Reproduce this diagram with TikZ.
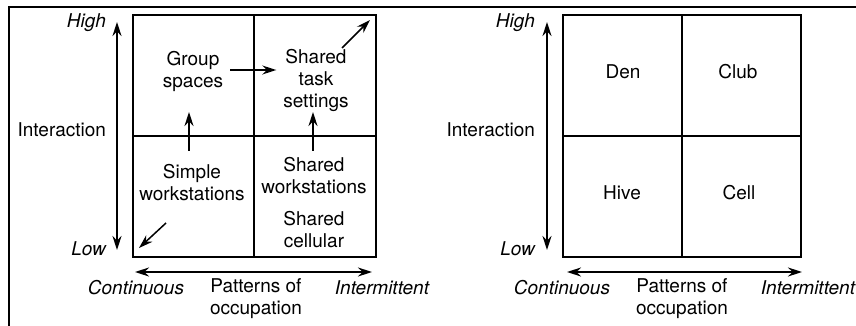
\documentclass[tikz,border=0pt]{standalone}
\usepackage{fontspec}
\setmainfont{TeX Gyre Heros}
\usetikzlibrary{arrows.meta,positioning}

\tikzset{
  quad/.style={line width=0.7pt},
  axis/.style={line width=0.8pt,
    {Stealth[length=7pt,width=4.5pt]}-{Stealth[length=7pt,width=4.5pt]}},
  flow/.style={line width=0.75pt,-{Stealth[length=7pt,width=4.5pt]}},
  txt/.style={align=center,font=\fontsize{9.5}{11}\selectfont},
  pole/.style={font=\fontsize{9.5}{11}\selectfont\itshape}
}

\begin{document}
\begin{tikzpicture}[x=0.5pt,y=-0.5pt]
  \useasboundingbox (0,0) rectangle (856,326);
  % frame
  \draw [line width=1pt] (9,326) -- (9,7) -- (856,7);

  % Settings matrix
  \draw [quad] (133,15) rectangle (376,257);
  \draw [quad] (254,15) -- (254,257);
  \draw [quad] (133,136) -- (376,136);

  \coordinate (hiA) at (117,22);
  \coordinate (loA) at (117,250);
  \draw [axis] (hiA) -- (loA);
  \node [pole, anchor=east] (highA) at (113,23) {High};
  \node [pole, anchor=east] (lowA) at (113,249) {Low};
  \node [txt, anchor=east] (interA) at (113,130) {Interaction};

  \coordinate (contA) at (135,272);
  \coordinate (interm) at (372,272);
  \draw [axis] (contA) -- (interm);
  \node [pole] (continA) at (136,288) {Continuous};
  \node [txt] (occA) at (256,299) {Patterns of\\occupation};
  \node [pole] (intermA) at (382,288) {Intermittent};

  \node [txt] (group) at (193,71) {Group\\spaces};
  \node [txt] (task) at (316,80) {Shared\\task\\settings};
  \node [txt] (simple) at (192,183) {Simple\\workstations};
  \node [txt] (sharedws) at (314,176) {Shared\\workstations};
  \node [txt] (cellular) at (314,230) {Shared\\cellular};

  \draw [flow] (group.east |- 0,70) -- (task.west |- 0,70);
  \draw [flow] (simple.north -| 189,0) ++(0,-7) -- (189,112);
  \draw [flow] (sharedws.north -| 313,0) -- (313,112);
  \coordinate (corner) at (370,20);
  \coordinate (origin) at (139,248);
  \draw [flow] (342,48) -- (corner);
  \draw [flow] (166,223) -- (origin);

  % Den / club / hive / cell
  \draw [quad] (563,15) rectangle (801,257);
  \draw [quad] (682,15) -- (682,257);
  \draw [quad] (563,136) -- (801,136);

  \coordinate (hiB) at (547,22);
  \coordinate (loB) at (547,250);
  \draw [axis] (hiB) -- (loB);
  \node [pole, anchor=east] (highB) at (542,23) {High};
  \node [pole, anchor=east] (lowB) at (542,249) {Low};
  \node [txt, anchor=east] (interB) at (542,130) {Interaction};

  \coordinate (contB) at (567,272);
  \coordinate (intermB) at (802,272);
  \draw [axis] (contB) -- (intermB);
  \node [pole] (continB) at (562,288) {Continuous};
  \node [txt] (occB) at (682,299) {Patterns of\\occupation};
  \node [pole] (intermitB) at (808,288) {Intermittent};

  \node [txt] (den) at (623,72) {Den};
  \node [txt] (club) at (738,72) {Club};
  \node [txt] (hive) at (622,193) {Hive};
  \node [txt] (cell) at (739,193) {Cell};
\end{tikzpicture}
\end{document}
